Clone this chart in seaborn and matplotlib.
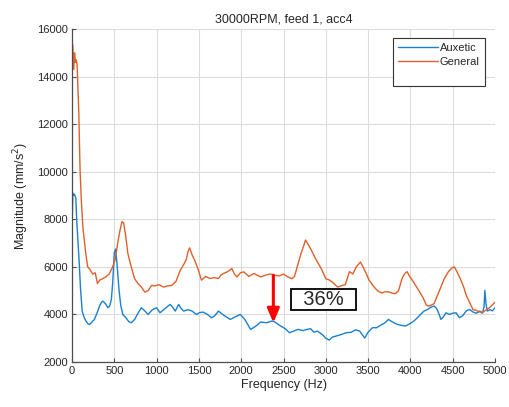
import numpy as np
import pandas as pd
import matplotlib
matplotlib.use("Agg")
import matplotlib.pyplot as plt
import seaborn as sns
from matplotlib.lines import Line2D

# Values
freq_auxetic = [0, 10, 15, 30, 45, 55, 70, 85, 100, 120, 140, 165, 190, 210, 240, 265, 300, 325,
                345, 365, 395, 425, 445, 465, 480, 500, 515, 530, 555, 575, 600, 640, 670, 700,
                740, 780, 820, 860, 900, 950, 1000, 1040, 1100, 1160, 1190, 1220, 1260, 1290, 1320,
                1370, 1420, 1470, 1510, 1550, 1600, 1650, 1690, 1730, 1800, 1870, 1930, 1990, 2050,
                2110, 2170, 2230, 2300, 2360, 2390, 2450, 2520, 2570, 2620, 2670, 2730, 2780, 2820,
                2860, 2900, 2960, 3000, 3040, 3080, 3130, 3180, 3240, 3300, 3350, 3400, 3430, 3460,
                3500, 3550, 3600, 3650, 3700, 3740, 3780, 3830, 3880, 3940, 3990, 4040, 4080, 4120,
                4160, 4200, 4240, 4280, 4310, 4340, 4360, 4390, 4420, 4460, 4500, 4540, 4580, 4620,
                4660, 4700, 4740, 4780, 4820, 4850, 4870, 4880, 4895, 4910, 4940, 4970, 5000]
mag_auxetic = [7700, 9100, 9000, 9050, 8900, 8000, 7100, 6180, 5100, 4140, 3900, 3720, 3600, 3580,
               3700, 3790, 4100, 4350, 4500, 4560, 4450, 4280, 4350, 4630, 5300, 6600, 6750, 6200,
               5060, 4400, 4000, 3850, 3700, 3650, 3790, 4050, 4280, 4150, 4000, 4200, 4280, 4070,
               4250, 4420, 4300, 4140, 4420, 4250, 4140, 4200, 4140, 4000, 4080, 4100, 4000, 3860,
               3950, 4140, 3950, 3790, 3900, 4000, 3750, 3370, 3500, 3680, 3650, 3720, 3700, 3550,
               3400, 3230, 3300, 3370, 3320, 3370, 3400, 3250, 3300, 3150, 3000, 2920, 3050, 3100,
               3150, 3230, 3250, 3350, 3300, 3150, 3010, 3250, 3440, 3440, 3550, 3650, 3790, 3700,
               3600, 3550, 3510, 3600, 3720, 3850, 4000, 4140, 4200, 4300, 4350, 4250, 4000, 3790,
               3900, 4070, 4000, 4050, 4070, 3860, 3950, 4150, 4210, 4100, 4050, 4140, 4050, 4300,
               5010, 4400, 4140, 4200, 4150, 4280]

freq_general = [0, 10, 20, 30, 40, 50, 60, 70, 80, 95, 110, 130, 145, 165, 185, 210, 245, 275,
                300, 330, 360, 400, 440, 480, 510, 540, 565, 590, 610, 635, 660, 700, 740, 780, 820,
                860, 900, 940, 980, 1030, 1080, 1130, 1180, 1230, 1280, 1320, 1350, 1370, 1390, 1420,
                1450, 1490, 1530, 1580, 1630, 1680, 1730, 1760, 1790, 1840, 1890, 1920, 1950, 1990,
                2030, 2090, 2150, 2190, 2230, 2290, 2340, 2390, 2450, 2500, 2550, 2600, 2630, 2670,
                2710, 2740, 2760, 2790, 2830, 2870, 2910, 2950, 3000, 3040, 3080, 3140, 3180, 3230,
                3280, 3320, 3360, 3410, 3440, 3480, 3510, 3560, 3610, 3660, 3700, 3740, 3780, 3820,
                3860, 3900, 3930, 3960, 3990, 4030, 4060, 4100, 4150, 4190, 4220, 4250, 4280, 4320,
                4360, 4400, 4450, 4490, 4520, 4550, 4590, 4630, 4660, 4700, 4740, 4780, 4820, 4860,
                4900, 4940, 4970, 5000]
mag_general = [15400, 15300, 14300, 15000, 14600, 14700, 14500, 13560, 12500, 10070, 8800, 7600,
               7130, 6500, 6000, 5900, 5700, 5750, 5300, 5450, 5500, 5580, 5700, 6000, 6300, 7000,
               7500, 7900, 7850, 7300, 6560, 6000, 5500, 5300, 5150, 4940, 5000, 5220, 5200, 5250,
               5150, 5200, 5220, 5400, 5860, 6100, 6300, 6630, 6800, 6500, 6280, 5900, 5440, 5600,
               5510, 5550, 5510, 5650, 5720, 5800, 5930, 5700, 5580, 5750, 5790, 5600, 5720, 5650,
               5580, 5650, 5700, 5650, 5620, 5700, 5580, 5500, 5600, 6100, 6600, 6900, 7130, 6950,
               6700, 6400, 6150, 5900, 5500, 5450, 5350, 5150, 5200, 5250, 5800, 5700, 6000, 6200,
               6000, 5700, 5450, 5200, 5000, 4900, 4950, 4950, 4900, 4870, 5000, 5500, 5700, 5800,
               5600, 5400, 5230, 5000, 4700, 4380, 4350, 4400, 4450, 4800, 5150, 5500, 5800, 5950,
               6000, 5800, 5500, 5150, 4800, 4500, 4200, 4170, 4100, 4100, 4200, 4300, 4400, 4520]

arrow_x = 2380
arrow_top = 5650
arrow_tip = 3650
note_x, note_y = 2973, 4630

blue = '#1a80d0'
orange = '#e0602a'

sns.set_theme(style="white")
plt.rcParams['font.family'] = ['Liberation Sans', 'DejaVu Sans']

fig = plt.figure(figsize=(5.09, 4.07), dpi=100)
ax = fig.add_axes([0.1415, 0.1106, 0.831, 0.818])

aux = pd.DataFrame({'freq': freq_auxetic, 'mag': mag_auxetic})
gen = pd.DataFrame({'freq': freq_general, 'mag': mag_general})
sns.lineplot(data=aux, x='freq', y='mag', ax=ax, color=blue, lw=1.0,
             sort=False, estimator=None)
sns.lineplot(data=gen, x='freq', y='mag', ax=ax, color=orange, lw=1.0,
             sort=False, estimator=None)

ax.set_xlim(0, 5000)
ax.set_ylim(2000, 16000)
ax.set_xticks(np.arange(0, 5001, 500))
ax.set_yticks(np.arange(2000, 16001, 2000))
ax.grid(True, color='#dcdcdc', lw=0.8)
for s in ['top', 'right']:
    ax.spines[s].set_visible(False)
for s in ['left', 'bottom']:
    ax.spines[s].set_color('#4d4d4d')
    ax.spines[s].set_linewidth(0.9)
ax.tick_params(direction='in', length=3, width=0.8, color='#4d4d4d',
               labelsize=8, labelcolor='#262626', pad=3, left=True, bottom=True)

ax.set_title('30000RPM, feed 1, acc4', fontsize=9, color='#262626', pad=5)
ax.set_xlabel('Frequency (Hz)', fontsize=9, color='#262626', labelpad=2)
ax.set_ylabel('Magnitude (mm/s$^2$)', fontsize=9, color='#262626', labelpad=4)

# red arrow showing the drop
ax.annotate('', xy=(arrow_x, arrow_tip), xytext=(arrow_x, arrow_top),
            arrowprops=dict(arrowstyle='-|>,head_width=0.3,head_length=0.7',
                            color='#ff0000', lw=2.2, shrinkA=0, shrinkB=0))
ax.text(note_x, note_y, '  36%  ', fontsize=14.5, ha='center', va='center',
        bbox=dict(boxstyle='square,pad=0.05', fc='white', ec='black', lw=1.3))

handles = [Line2D([], [], color=blue, lw=1.0),
           Line2D([], [], color=orange, lw=1.0),
           Line2D([], [], color='none')]
leg = ax.legend(handles, ['Auxetic', 'General', ' '], loc='upper right',
                bbox_to_anchor=(0.976, 0.973), borderaxespad=0, fontsize=8,
                fancybox=False, framealpha=1, edgecolor='#333333', handlelength=3.6,
                handletextpad=0.2, labelspacing=0.35, borderpad=0.45)
leg.get_frame().set_linewidth(0.8)

fig.savefig('out.png', dpi=100)
